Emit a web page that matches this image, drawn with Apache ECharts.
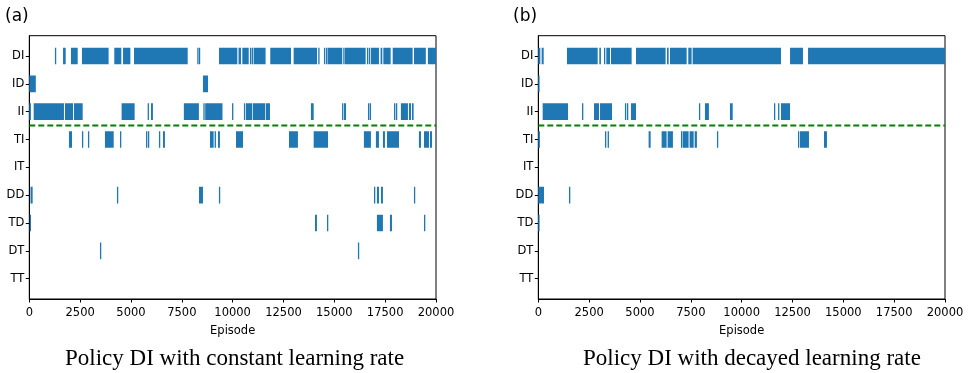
<!DOCTYPE html>
<html>
<head>
<meta charset="utf-8">
<script src="https://cdn.jsdelivr.net/npm/echarts@6/dist/echarts.min.js"></script>
<style>
  html, body { margin: 0; padding: 0; background: #fff; }
  #chart { width: 971px; height: 373px; }
</style>
</head>
<body>
<div id="chart"></div>
<script>
// policy states on the y axis, top to bottom
const states = ["DI", "ID", "II", "TI", "IT", "DD", "TD", "DT", "TT"];
const xTicks = [0, 2500, 5000, 7500, 10000, 12500, 15000, 17500, 20000];
const splitAt = 2.5; // dashed line between II and TI

// (a) constant learning rate: [start episode, end episode]
const A_DI = [[1260,1310],[1660,1790],[2050,2380],[2590,3900],[4180,4525],[4610,4970],[5150,7790],
  [8260,8300],[8340,8380],[9330,10230],[10290,10410],[10475,10790],[10850,10885],[10935,10985],
  [11030,11620],[11850,12870],[13000,14150],[14210,14260],[14490,14540],[14590,14620],[14670,15390],
  [15440,15475],[15520,16540],[16605,16655],[16700,16750],[16800,17195],[17275,17360],[17410,17770],
  [17870,18850],[18920,19500],[19600,20000]];
const A_ID = [[0,320],[8540,8790]];
const A_II = [[0,80],[215,1705],[1755,2150],[2200,2625],[4540,5180],[5820,5870],[5985,6080],
  [7600,8340],[8560,8610],[8650,9500],[9970,10015],[10555,10605],[10655,10965],[11000,11605],
  [11640,11835],[13850,13985],[15380,15430],[15475,15575],[16655,16690],[16740,16805],
  [17935,17985],[18030,18095],[18275,18620],[18670,18770],[18820,18900]];
const A_TI = [[1950,2100],[2590,2640],[2885,2935],[3720,4150],[4460,4510],[5740,5790],[5835,5885],
  [6375,6425],[6575,6670],[8885,9065],[9115,9165],[9280,9375],[10165,10510],[12770,13210],
  [13985,14690],[16455,16800],[17045,17195],[17390,17490],[17590,18180],[19160,19260],
  [19410,19655],[19705,19805]];
const A_IT = [];
const A_DD = [[60,165],[4310,4360],[8345,8540],[9325,9375],[16950,17000],[17095,17195],
  [17295,17390],[18915,18965]];
const A_TD = [[20,70],[14050,14145],[14640,14690],[17095,17390],[17735,17835],[19410,19460]];
const A_DT = [[3475,3525],[16160,16210]];
const A_TT = [];

// (b) decayed learning rate
const B_DI = [[0,100],[165,265],[1410,2920],[3000,3080],[3230,3280],[3345,3525],[3575,4590],
  [4805,6260],[6330,6410],[6475,7295],[7375,7540],[7590,11935],[12380,13015],[13265,20000]];
const B_ID = [[0,60]];
const B_II = [[215,1460],[2150,2180],[2740,2985],[3035,3625],[4260,4310],[4360,4410],[4560,4805],
  [7900,7950],[8195,8390],[9425,9560],[11590,11640],[11790,11835],[11935,12380]];
const B_TI = [[0,80],[3280,3330],[3410,3475],[5425,5525],[6065,6310],[6360,6620],[7015,7065],
  [7100,7390],[7440,7640],[7690,7800],[8785,8835],[12770,12820],[12870,13310],[14050,14195]];
const B_IT = [];
const B_DD = [[0,280],[1510,1560]];
const B_TD = [[0,60]];
const B_DT = [];
const B_TT = [];

const panelA = [A_DI, A_ID, A_II, A_TI, A_IT, A_DD, A_TD, A_DT, A_TT];
const panelB = [B_DI, B_ID, B_II, B_TI, B_IT, B_DD, B_TD, B_DT, B_TT];

const BAR_H = 0.6;
const BLUE = "#1f77b4";

function toData(panel) {
  const out = [];
  panel.forEach(function (segs, row) {
    segs.forEach(function (s) { out.push([s[0], s[1], row]); });
  });
  return out;
}

function renderSeg(params, api) {
  const row = api.value(2);
  const p0 = api.coord([api.value(0), row]);
  const p1 = api.coord([api.value(1), row]);
  const h = api.size([0, BAR_H])[1];
  return {
    type: "rect",
    shape: { x: p0[0], y: p0[1] - h / 2, width: Math.max(p1[0] - p0[0], 1.3), height: h },
    style: { fill: BLUE }
  };
}

const grids = [
  { left: 29.3, top: 35.7, width: 406.7, height: 263.3 },
  { left: 538.3, top: 35.7, width: 406.7, height: 263.3 }
];

const tickFont = { fontFamily: "DejaVu Sans", fontSize: 11.5, color: "#000" };
const capFont = { fontFamily: "Liberation Serif", fontSize: 23, fontWeight: "normal", color: "#000" };
const tagFont = { fontFamily: "DejaVu Sans", fontSize: 17, fontWeight: "normal", color: "#000" };

let myChart = echarts.init(document.getElementById("chart"));
var option;

option = {
  animation: false,
  backgroundColor: "#fff",
  title: [
    { text: "(a)", left: 0, top: 3, textStyle: tagFont },
    { text: "(b)", left: 508, top: 3, textStyle: tagFont },
    { text: "Policy DI with constant learning rate", left: 60, top: 342, textStyle: capFont },
    { text: "Policy DI with decayed learning rate", left: 578, top: 342, textStyle: capFont }
  ],
  grid: grids.map(function (g) {
    return Object.assign({ show: true, borderColor: "#000", borderWidth: 1, backgroundColor: "#fff", containLabel: false }, g);
  }),
  xAxis: [0, 1].map(function (i) {
    return {
      type: "value", gridIndex: i, min: xTicks[0], max: xTicks[xTicks.length - 1], interval: 2500,
      name: "Episode", nameLocation: "middle", nameGap: 26,
      nameTextStyle: tickFont,
      axisLine: { show: true, onZero: false, lineStyle: { color: "#000", width: 1 } },
      axisTick: { show: true, length: 3.5, lineStyle: { color: "#000" } },
      axisLabel: Object.assign({ margin: 8, formatter: function (v) { return String(v); } }, tickFont),
      splitLine: { show: false }
    };
  }),
  yAxis: [0, 1].map(function (i) {
    return {
      type: "value", gridIndex: i, inverse: true, min: -0.73, max: 8.73,
      axisLine: { show: true, onZero: false, lineStyle: { color: "#000", width: 1 } },
      axisTick: { show: true, length: 3.5, customValues: states.map(function (s, k) { return k; }), lineStyle: { color: "#000" } },
      axisLabel: Object.assign({
        margin: 5,
        customValues: states.map(function (s, k) { return k; }),
        formatter: function (v) { return states[Math.round(v)]; }
      }, tickFont),
      splitLine: { show: false }
    };
  }),
  series: [
    { type: "custom", xAxisIndex: 0, yAxisIndex: 0, clip: true, renderItem: renderSeg, data: toData(panelA) },
    { type: "custom", xAxisIndex: 1, yAxisIndex: 1, clip: true, renderItem: renderSeg, data: toData(panelB) },
    { type: "line", xAxisIndex: 0, yAxisIndex: 0, symbol: "none", silent: true,
      lineStyle: { color: "#008000", width: 2, type: [6, 3] }, data: [[xTicks[0], splitAt], [xTicks[8], splitAt]] },
    { type: "line", xAxisIndex: 1, yAxisIndex: 1, symbol: "none", silent: true,
      lineStyle: { color: "#008000", width: 2, type: [6, 3] }, data: [[xTicks[0], splitAt], [xTicks[8], splitAt]] }
  ]
};

option && myChart.setOption(option);
</script>
</body>
</html>
